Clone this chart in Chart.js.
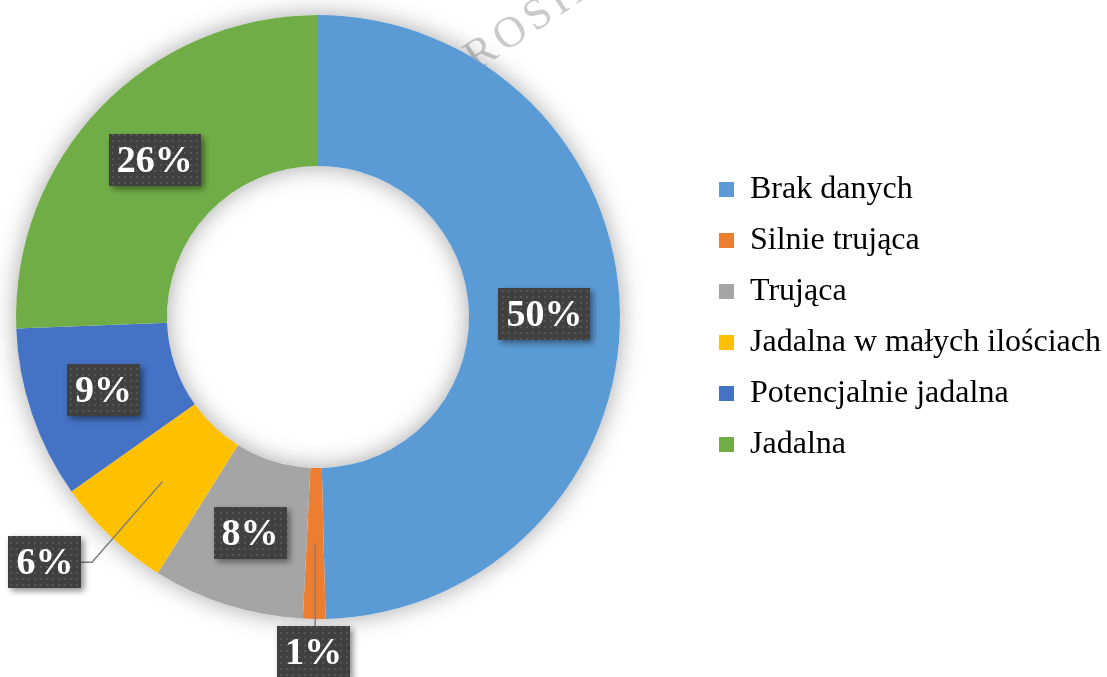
<!DOCTYPE html>
<html>
<head>
<meta charset="utf-8">
<script src="https://cdn.jsdelivr.net/npm/chart.js@4.4.1/dist/chart.umd.min.js"></script>
<style>
    html, body { margin: 0; padding: 0; background: #fff; overflow: hidden; }
    #chart { display: block; margin-left: -64px; }
</style>
</head>
<body>
<canvas id="chart" width="1175" height="677"></canvas>
<script>
// kategorie
const categories = ['Brak danych', 'Silnie trująca', 'Trująca', 'Jadalna w małych ilościach', 'Potencjalnie jadalna', 'Jadalna'];
// udział gatunków (%)
const shares = [49.6, 1.2, 8.1, 6.3, 9.2, 25.6];
// kolory wycinków
const sliceColors = ['#5B9BD5', '#ED7D31', '#A5A5A5', '#FFC000', '#4472C4', '#70AD47'];

// etykiety wyciągnięte poza pierścień (indeks -> promień względny, przesunięcie kąta w stopniach)
const outsideLabels = {
    1: { radius: 1.11, shift: 0 },
    3: { radius: 1.215, shift: 4.7 }
};

const serif = '"Liberation Serif", "Times New Roman", serif';

// wzór kropkowany tła etykiet
function makePattern(ctx) {
    const c = document.createElement('canvas');
    c.width = 6; c.height = 6;
    const p = c.getContext('2d');
    p.fillStyle = '#404040';
    p.fillRect(0, 0, 6, 6);
    p.fillStyle = '#555555';
    p.fillRect(2, 2, 2, 2);
    return ctx.createPattern(c, 'repeat');
}

// cień pod pierścieniem + znak wodny
const ringShadow = {
    id: 'ringShadow',
    beforeDatasetsDraw(chart) {
        const ctx = chart.ctx;
        const arc = chart.getDatasetMeta(0).data[0];
        if (!arc) return;

        ctx.save();
        ctx.translate(476 + 64, 72);
        ctx.rotate(-34 * Math.PI / 180);
        ctx.font = '44px ' + serif;
        ctx.letterSpacing = '5px';
        ctx.fillStyle = 'rgba(150,150,150,0.5)';
        ctx.fillText('ROSIŃSKI', 0, 0);
        ctx.restore();

        ctx.save();
        ctx.shadowColor = 'rgba(0,0,0,0.35)';
        ctx.shadowBlur = 24;
        ctx.fillStyle = '#fff';
        ctx.beginPath();
        ctx.arc(arc.x, arc.y, arc.outerRadius, 0, Math.PI * 2);
        ctx.arc(arc.x, arc.y, arc.innerRadius, 0, Math.PI * 2, true);
        ctx.fill('evenodd');
        ctx.restore();
    }
};

// etykiety procentowe w ciemnych ramkach
const boxLabels = {
    id: 'boxLabels',
    afterDatasetsDraw(chart) {
        const ctx = chart.ctx;
        const meta = chart.getDatasetMeta(0);
        const data = chart.data.datasets[0].data;
        const total = data.reduce((a, b) => a + b, 0);
        const pattern = makePattern(ctx);

        ctx.save();
        ctx.font = 'bold 38px ' + serif;
        meta.data.forEach((arc, i) => {
            const txt = Math.round(data[i] / total * 100) + '%';
            const p = arc.getCenterPoint();
            let cx = p.x, cy = p.y;
            const out = outsideLabels[i];
            if (out) {
                const a = (arc.startAngle + arc.endAngle) / 2 + out.shift * Math.PI / 180;
                cx = arc.x + Math.cos(a) * arc.outerRadius * out.radius;
                cy = arc.y + Math.sin(a) * arc.outerRadius * out.radius;
            }
            const w = Math.round(ctx.measureText(txt).width + 16);
            const h = 52;
            const bx = Math.round(cx - w / 2), by = Math.round(cy - h / 2);

            if (out) {
                ctx.strokeStyle = '#7f7f7f';
                ctx.lineWidth = 1.5;
                ctx.beginPath();
                ctx.moveTo(p.x, p.y);
                if (Math.abs(p.x - cx) < w / 2) {
                    ctx.lineTo(p.x, by);
                } else {
                    const edge = p.x > cx ? bx + w : bx;
                    ctx.lineTo(edge + (p.x > cx ? 11 : -11), cy);
                    ctx.lineTo(edge, cy);
                }
                ctx.stroke();
            }

            ctx.save();
            ctx.shadowColor = 'rgba(0,0,0,0.45)';
            ctx.shadowBlur = 6;
            ctx.shadowOffsetX = 3;
            ctx.shadowOffsetY = 3;
            ctx.fillStyle = pattern;
            ctx.fillRect(bx, by, w, h);
            ctx.restore();

            ctx.fillStyle = '#fff';
            ctx.textAlign = 'center';
            ctx.textBaseline = 'middle';
            ctx.fillText(txt, cx, cy + 2);
        });
        ctx.restore();
    }
};

new Chart(document.getElementById('chart'), {
    type: 'doughnut',
    data: {
        labels: categories,
        datasets: [{
            data: shares,
            backgroundColor: sliceColors,
            borderWidth: 0,
            hoverOffset: 0
        }]
    },
    options: {
        responsive: false,
        animation: false,
        cutout: '50%',
        layout: {
            padding: { left: 0, right: 0, top: 15, bottom: 58 }
        },
        plugins: {
            tooltip: { enabled: false },
            legend: {
                position: 'right',
                labels: {
                    color: '#000',
                    font: { family: serif, size: 32 },
                    boxWidth: 15,
                    boxHeight: 15,
                    padding: 19
                }
            }
        }
    },
    plugins: [ringShadow, boxLabels]
});
</script>
</body>
</html>
